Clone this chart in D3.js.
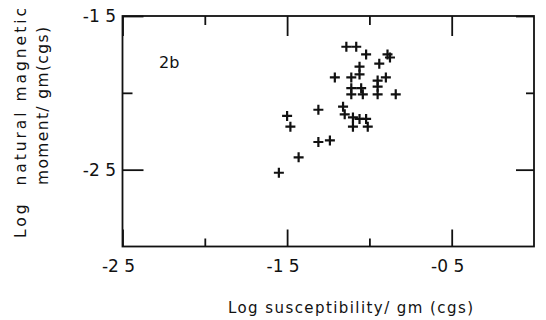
<!DOCTYPE html>
<html><head><meta charset="utf-8">
<script src="https://cdn.jsdelivr.net/npm/d3@7"></script>
<style>body{margin:0;background:#fff}svg{display:block}text{font-family:"DejaVu Sans",sans-serif;fill:#111}</style>
</head><body><svg id="c" width="546" height="320"></svg>
<script>
const susceptibility = [-1.14,-1.08,-1.02,-0.89,-0.875,-0.94,-1.06,-1.21,-1.11,-1.06,-0.90,-0.95,-1.11,-1.05,-1.11,-1.04,-0.95,-0.95,-0.84,-1.16,-1.15,-1.31,-1.50,-1.48,-1.10,-1.06,-1.02,-1.10,-1.01,-1.31,-1.24,-1.43,-1.55];
const moment = [-1.70,-1.70,-1.75,-1.75,-1.77,-1.81,-1.83,-1.90,-1.90,-1.88,-1.90,-1.92,-1.97,-1.97,-2.01,-2.01,-1.96,-2.01,-2.01,-2.09,-2.14,-2.11,-2.15,-2.22,-2.16,-2.17,-2.17,-2.22,-2.22,-2.32,-2.31,-2.42,-2.52];
const xMajor = [-2.5,-1.5,-0.5];
const xMinor = [-2.0,-1.0];
const xLabels = ["-2 5","-1 5","-0 5"];
const yMajor = [-1.5,-2.5];
const yMinor = [-2.0];
const yLabels = ["-1 5","-2 5"];
const panelLabel = "2b";
const xTitle = "Log susceptibility/ gm (cgs)";
const yTitle = ["Log  natural magnetic","moment/ gm(cgs)"];

const svg = d3.select("#c");
const L=122.5,R=534,T=16,B=246.5;
const x = d3.scaleLinear().domain([-2.5,0]).range([L,R]);
const y = d3.scaleLinear().domain([-3,-1.5]).range([B,T]);

function ax(gen, tx, ty, vals, size){
  const g = svg.append("g").attr("transform",`translate(${tx},${ty})`)
    .call(gen.tickValues(vals).tickSize(size).tickFormat(""));
  g.select(".domain").remove();
  g.selectAll(".tick line").attr("stroke","#111").attr("stroke-width",1.8);
  return g;
}
ax(d3.axisBottom(x),0,B,xMajor,-17);
ax(d3.axisBottom(x),0,B,xMinor,-8);
ax(d3.axisTop(x),0,T,xMajor,-20);
ax(d3.axisTop(x),0,T,xMinor,-9);
ax(d3.axisLeft(y),L,0,yMajor,-21);
ax(d3.axisLeft(y),L,0,yMinor,-10);
ax(d3.axisRight(y),R,0,yMajor,-18);
ax(d3.axisRight(y),R,0,yMinor,-8);

svg.append("rect").attr("x",L).attr("y",T).attr("width",R-L).attr("height",B-T)
  .attr("fill","none").attr("stroke","#111").attr("stroke-width",1.8);

// tick labels
svg.selectAll(".xl").data(xMajor).join("text").attr("class","xl")
  .attr("x",(d)=>x(d)-4).attr("y",272).attr("text-anchor","middle")
  .attr("font-size",17).attr("xml:space","preserve").text((d,i)=>xLabels[i]);
svg.selectAll(".yl").data(yMajor).join("text").attr("class","yl")
  .attr("x",116).attr("y",(d)=>y(d)+6).attr("text-anchor","end")
  .attr("font-size",17).attr("xml:space","preserve").text((d,i)=>yLabels[i]);

svg.append("text").attr("x",159).attr("y",68).attr("font-size",16).text(panelLabel);

svg.append("text").attr("x",228).attr("y",313)
  .attr("font-size",15).attr("textLength",245).attr("lengthAdjust","spacing").text(xTitle);

svg.append("text").attr("transform","translate(26,238) rotate(-90)")
  .attr("font-size",15.5).attr("textLength",230).attr("lengthAdjust","spacing")
  .attr("xml:space","preserve").text(yTitle[0]);
svg.append("text").attr("transform","translate(48,185) rotate(-90)")
  .attr("font-size",15.5).attr("textLength",158).attr("lengthAdjust","spacing").text(yTitle[1]);

// points as plus marks
const pts = susceptibility.map((d,i)=>({sx:d,m:moment[i]}));
const s=5;
const pg = svg.append("g").attr("stroke","#111").attr("stroke-width",2.2);
pts.forEach(p=>{
  const cx=x(p.sx), cy=y(p.m);
  pg.append("path").attr("d",`M${cx-s},${cy}H${cx+s}M${cx},${cy-s}V${cy+s}`);
});
</script></body></html>
